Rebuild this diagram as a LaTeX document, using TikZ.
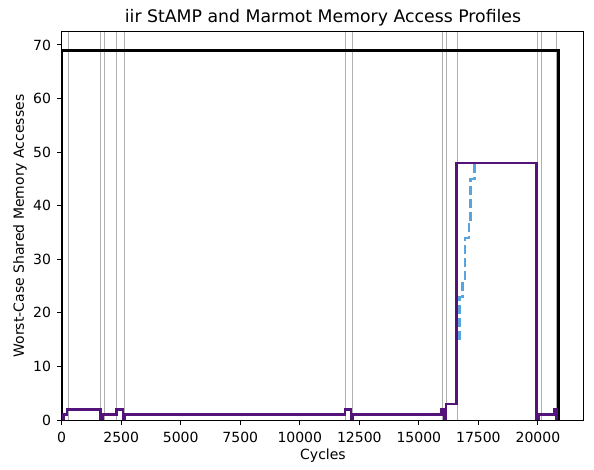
\documentclass[tikz,border=0pt]{standalone}
\usepackage{fontspec}
\setmainfont{DejaVu Sans}
\definecolor{mpurple}{RGB}{84,18,123}
\definecolor{mblue}{RGB}{88,164,222}
\definecolor{mgray}{RGB}{175,175,175}
\tikzset{
  vline/.style={mgray, line width=1pt},
  wcline/.style={black, line width=2.8pt, line join=miter},
  profline/.style={mpurple, line width=2.5pt, line join=miter},
  marmot/.style={mblue, line width=2.5pt, dash pattern=on 9pt off 4pt},
  frame/.style={black, line width=1pt},
  tickmark/.style={black, line width=1pt},
  ticklab/.style={font=\fontsize{14}{16}\selectfont, inner sep=0pt},
}
\begin{document}
\begin{tikzpicture}[x=1pt,y=1pt]
\useasboundingbox (0,0) rectangle (594,469);
\begin{scope}[shift={(61.7pt,49pt)}, x=23.81pt, y=5.3571pt]
  % axes corners
  \coordinate (ll) at (0,0);
  \coordinate (ur) at (21.935,72.45);
  \begin{scope}
    \clip (ll) rectangle (ur);
    % gray vertical lines
    \foreach \v in {0.277,1.609,1.777,2.310,2.617,11.940,12.205,16.002,16.170,16.615,19.975,20.143,20.790}
      \draw[vline] (\v,0) -- (\v,72.45);
    % worst case
    \draw[wcline] (0,0) -- (0,69) -- (20.86,69) -- (20.86,0);
    % StAMP profile
    \draw[profline] (0,0) -- (0.067,0) -- (0.067,1) -- (0.223,1) -- (0.223,2) -- (1.638,2) -- (1.638,0) -- (1.705,0) -- (1.705,1) -- (2.293,1) -- (2.293,2) -- (2.575,2) -- (2.575,0) -- (2.659,0) -- (2.659,1) -- (11.899,1) -- (11.899,2) -- (12.151,2) -- (12.151,0) -- (12.235,0) -- (12.235,1) -- (15.960,1) -- (15.960,2) -- (16.057,2) -- (16.057,0) -- (16.141,0) -- (16.141,3) -- (16.590,3) -- (16.590,48) -- (19.950,48) -- (19.950,0) -- (20.047,0) -- (20.047,1) -- (20.677,1) -- (20.677,2) -- (20.773,2) -- (20.773,0);
    % Marmot profile
    \draw[marmot] (16.699,15) -- (16.699,23) -- (16.842,23) -- (16.842,26) -- (16.939,26) -- (16.939,34) -- (17.107,34) -- (17.107,37) -- (17.178,37) -- (17.178,45) -- (17.329,45) -- (17.329,48);
  \end{scope}
  % frame
  \draw[frame] (ll) rectangle (ur);
  % x ticks
  \foreach \t/\l in {0/0,2.5/2500,5/5000,7.5/7500,10/10000,12.5/12500,15/15000,17.5/17500,20/20000} {
    \draw[tickmark] (\t,0) -- ++(0,-4.9pt);
    \node[ticklab, anchor=base] at ([yshift=-22pt]\t,0) {\l};
  }
  % y ticks
  \foreach \t in {0,10,...,70} {
    \draw[tickmark] (0,\t) -- ++(-4.9pt,0);
    \node[ticklab, anchor=east] at ([xshift=-10.5pt]0,\t) {\t};
  }
\end{scope}
\node[ticklab, anchor=base] (xl) at (323,9.6) {Cycles};
\node[ticklab, rotate=90] (yl) at (20,243) {Worst-Case Shared Memory Accesses};
\node[inner sep=0pt, anchor=base, font=\fontsize{17.3}{19}\selectfont] (title) at (323,446) {iir StAMP and Marmot Memory Access Profiles};
\end{tikzpicture}
\end{document}
